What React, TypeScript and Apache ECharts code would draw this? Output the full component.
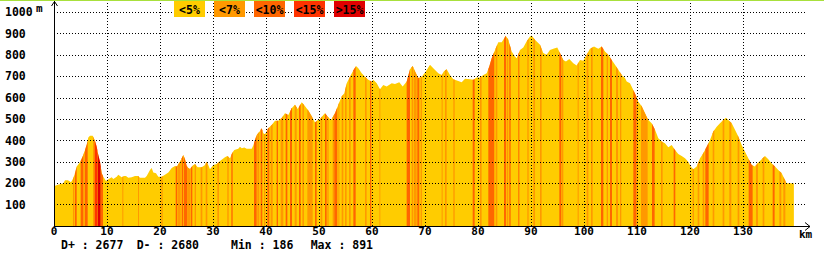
import React, { useEffect, useRef } from "react";
import * as echarts from "echarts";

// Elevation profile: distance (km) and altitude (m)
const KM = [
  0, 0.57, 1.75, 2.08, 2.64, 3.21, 3.64, 3.96, 4.28, 4.91, 5.53, 5.85, 6.17, 6.47, 6.79, 7.3, 7.74, 8.06, 8.36, 8.68,
  9.0, 9.3, 9.81, 10.25, 10.89, 11.19, 11.83, 12.13, 12.77, 13.21, 13.58, 14.02, 14.66, 15.28, 15.85, 16.23, 17.17, 17.49, 18.11, 18.43,
  18.74, 19.25, 19.68, 20.32, 20.94, 21.57, 22.21, 22.83, 23.15, 23.77, 24.4, 24.72, 25.04, 25.34, 25.66, 26.17, 26.6, 27.11, 27.87, 28.49,
  28.81, 29.11, 29.43, 30.06, 30.7, 31.32, 32.26, 32.7, 33.21, 33.64, 34.02, 34.77, 35.09, 35.42, 35.91, 36.36, 37.3, 37.6, 37.92, 38.25,
  38.87, 39.19, 39.49, 39.81, 40.43, 41.08, 41.7, 42.32, 42.96, 43.58, 44.21, 44.85, 45.47, 45.98, 46.74, 47.23, 47.98, 48.62, 49.25, 49.75,
  50.19, 50.81, 51.13, 51.75, 52.26, 53.02, 53.64, 54.28, 54.77, 55.23, 55.85, 56.47, 56.98, 57.42, 58.06, 58.68, 59.3, 59.94, 60.25, 60.89,
  61.51, 62.13, 62.77, 63.72, 64.34, 65.15, 65.79, 66.55, 67.17, 67.68, 68.11, 68.74, 69.38, 70.19, 70.94, 71.57, 72.51, 73.15, 73.58, 74.09,
  74.72, 75.34, 76.28, 76.92, 77.55, 78.49, 79.11, 79.75, 80.38, 81.0, 81.64, 82.13, 82.58, 83.21, 83.83, 84.47, 84.77, 85.23, 85.72, 86.36,
  86.98, 87.3, 87.92, 88.55, 89.19, 89.81, 90.13, 90.75, 91.7, 92.32, 92.96, 93.58, 94.21, 94.96, 95.47, 96.09, 96.6, 97.23, 97.98, 98.62,
  99.25, 99.87, 100.51, 101.13, 101.89, 102.7, 103.34, 103.96, 104.58, 105.23, 105.85, 106.47, 107.11, 107.74, 108.06, 108.68, 109.3, 109.81, 110.25, 110.89,
  111.51, 112.13, 112.77, 113.4, 114.02, 114.66, 115.28, 115.91, 116.55, 117.17, 117.79, 118.43, 119.06, 119.68, 120.13, 120.62, 121.26, 121.89, 122.51, 123.15,
  123.77, 124.4, 125.04, 125.66, 126.28, 126.79, 127.23, 127.87, 128.49, 129.11, 129.75, 130.38, 131.0, 131.64, 132.26, 132.89, 133.53, 134.15, 134.77, 135.42,
  136.04, 136.66, 137.3, 137.92, 138.23, 139.6,
];
const ELEV = [
  186, 192, 200, 214, 214, 205, 223, 247, 278, 298, 332, 356, 380, 414, 422, 422, 398, 371, 332, 301,
  247, 231, 211, 219, 228, 220, 231, 240, 228, 234, 234, 226, 228, 234, 234, 226, 226, 234, 262, 271,
  250, 247, 231, 231, 240, 250, 271, 281, 278, 301, 332, 312, 281, 271, 267, 283, 290, 275, 275, 286,
  301, 286, 266, 286, 290, 304, 322, 328, 317, 343, 356, 361, 371, 364, 367, 361, 361, 377, 403, 426,
  445, 458, 434, 429, 458, 473, 493, 493, 505, 528, 520, 551, 567, 547, 579, 565, 541, 513, 484, 496,
  500, 520, 528, 509, 496, 528, 567, 606, 621, 668, 699, 728, 749, 738, 715, 699, 684, 676, 684, 668,
  640, 660, 653, 668, 664, 673, 653, 676, 734, 749, 724, 692, 699, 724, 754, 738, 715, 707, 724, 734,
  707, 687, 679, 673, 689, 687, 684, 695, 695, 707, 715, 746, 785, 824, 860, 860, 871, 890, 871, 816,
  793, 785, 824, 835, 864, 887, 891, 871, 848, 809, 801, 824, 829, 835, 809, 777, 770, 781, 762, 751,
  777, 773, 801, 829, 840, 829, 840, 816, 801, 777, 754, 731, 707, 692, 676, 668, 637, 609, 582, 560,
  528, 496, 481, 450, 411, 395, 387, 369, 379, 356, 337, 328, 317, 301, 278, 266, 278, 317, 341, 371,
  403, 442, 465, 481, 496, 507, 496, 481, 450, 419, 379, 348, 317, 286, 278, 297, 312, 328, 312, 293,
  278, 262, 247, 215, 200, 200,
];

// Grade classes: 0 <5%, 1 <7%, 2 <10%, 3 <15%, 4 >15% ; stretches [fromKm, toKm, class]
const STRIPES: [number, number, number][] = [
  [3.58, 3.84, 1], [3.96, 4.28, 2], [5.03, 5.53, 2], [5.53, 5.79, 1], [5.85, 6.35, 2], [7.36, 7.67, 1],
  [7.67, 8.18, 3], [8.24, 8.81, 4], [8.81, 9.25, 2], [12.89, 13.08, 1], [15.85, 16.04, 1], [20.25, 20.5, 1],
  [22.96, 23.27, 2], [23.4, 23.9, 1], [24.09, 24.4, 2], [24.53, 25.16, 2], [25.16, 25.66, 1], [25.79, 26.1, 2],
  [26.54, 26.79, 1], [27.67, 27.99, 1], [28.62, 28.93, 1], [30.82, 31.13, 1], [32.7, 32.96, 1], [33.46, 33.71, 2],
  [37.74, 38.24, 2], [38.36, 38.74, 1], [38.99, 39.31, 2], [39.62, 39.87, 1], [40.25, 40.63, 2], [40.88, 41.26, 1],
  [42.01, 42.26, 2], [42.77, 43.27, 1], [43.71, 44.03, 2], [44.53, 44.91, 2], [45.41, 45.79, 1], [46.23, 46.54, 2],
  [46.86, 47.17, 1], [47.8, 48.81, 1], [49.25, 49.56, 2], [50.31, 50.63, 1], [51.13, 51.45, 2], [51.57, 51.82, 1],
  [52.58, 52.89, 1], [52.89, 53.46, 2], [53.65, 53.84, 1], [54.28, 54.59, 1], [54.91, 55.22, 1], [55.66, 55.98, 1],
  [56.48, 56.92, 2], [58.68, 58.99, 1], [59.62, 59.87, 2], [61.4, 61.57, 1], [66.54, 67.17, 2], [67.48, 67.8, 1],
  [67.92, 68.43, 1], [68.55, 68.93, 2], [69.18, 69.43, 1], [73.14, 73.33, 1], [73.77, 74.09, 1], [75.35, 75.6, 1],
  [79.0, 79.37, 2], [80.38, 80.69, 1], [81.95, 83.08, 2], [83.33, 83.65, 1], [84.91, 85.28, 2], [85.41, 85.72, 1],
  [85.91, 86.16, 2], [87.61, 87.8, 2], [89.31, 89.56, 1], [90.44, 90.76, 1], [91.7, 92.01, 1], [95.35, 95.72, 2],
  [95.79, 96.1, 1], [98.8, 99.0, 1], [100.5, 100.82, 1], [101.32, 101.64, 1], [103.21, 103.65, 2], [104.28, 104.53, 1],
  [104.91, 105.28, 2], [106.04, 106.42, 1], [106.79, 107.04, 1], [109.31, 109.81, 2], [109.81, 110.13, 1], [110.75, 112.01, 1],
  [112.83, 113.33, 2], [114.53, 114.84, 1], [116.92, 117.23, 2], [120.5, 120.75, 1], [121.45, 121.76, 1], [122.39, 122.7, 1],
  [122.89, 123.52, 2], [124.28, 124.59, 1], [126.16, 126.48, 1], [127.42, 127.8, 1], [128.99, 129.31, 1], [131.07, 131.82, 2],
  [132.45, 132.83, 1], [133.71, 134.03, 1], [135.6, 135.97, 2], [136.86, 137.23, 1], [137.61, 137.99, 1],
];

const GRADE_LABELS = ["<5%", "<7%", "<10%", "<15%", ">15%"];
const GRADE_COLORS = ["#FFCC00", "#FF9900", "#FF6600", "#FF3300", "#E00000"];

const X_TICKS = [0, 10, 20, 30, 40, 50, 60, 70, 80, 90, 100, 110, 120, 130];
const Y_TICKS = [100, 200, 300, 400, 500, 600, 700, 800, 900, 1000];

const STATS = [
  { label: "D+ : 2677", x: 61 },
  { label: "D- : 2680", x: 136.7 },
  { label: "Min : 186", x: 231 },
  { label: "Max : 891", x: 310.7 },
];

const FONT = "'DejaVu Sans Mono', monospace";

function elevAt(km: number): number {
  if (km <= KM[0]) return ELEV[0];
  for (let i = 1; i < KM.length; i++) {
    if (km <= KM[i]) {
      const t = (km - KM[i - 1]) / (KM[i] - KM[i - 1]);
      return ELEV[i - 1] + t * (ELEV[i] - ELEV[i - 1]);
    }
  }
  return ELEV[ELEV.length - 1];
}

export default function App() {
  const ref = useRef<HTMLDivElement>(null);
  useEffect(() => {
    if (!ref.current) return;
    const chart = echarts.init(ref.current, null, { renderer: "svg" });
    const profile = KM.map((k, i) => [k, ELEV[i]]);
    const gridLines: any[] = [
      ...Y_TICKS.map((v) => ({ yAxis: v })),
      ...X_TICKS.filter((v) => v > 0).map((v) => ({ xAxis: v })),
    ];
    const graphics: any[] = [
      { type: "rect", shape: { x: 0, y: 0, width: 824, height: 1 }, style: { fill: "#A8E03C" }, z: 20 },
      {
        type: "polyline",
        shape: { points: [[51.5, 6], [54.5, 1.5], [57.5, 6]] },
        style: { stroke: "#000", lineWidth: 1, fill: null },
        z: 20,
      },
      {
        type: "polyline",
        shape: { points: [[794, 226.5], [810, 226.5]] },
        style: { stroke: "#000", lineWidth: 1, fill: null },
        z: 20,
      },
      {
        type: "polyline",
        shape: { points: [[805, 222.5], [810, 226.5], [805, 230.5]] },
        style: { stroke: "#000", lineWidth: 1, fill: null },
        z: 20,
      },
      {
        type: "text",
        x: 36,
        y: 8,
        style: { text: "m", font: `bold 11px ${FONT}`, fill: "#000", verticalAlign: "middle" },
        z: 20,
      },
      {
        type: "text",
        x: 799,
        y: 234,
        style: { text: "km", font: `bold 11px ${FONT}`, fill: "#000", verticalAlign: "middle" },
        z: 20,
      },
      ...STATS.map((s) => ({
        type: "text",
        x: s.x,
        y: 245,
        style: {
          text: s.label,
          font: `bold 11.5px ${FONT}`,
          lineHeight: 9,
          fill: "#000",
          verticalAlign: "middle",
        },
        z: 20,
      })),
      ...GRADE_LABELS.map((lab, i) => ({
        type: "group",
        z: 30,
        children: [
          {
            type: "rect",
            shape: { x: 174 + i * 40, y: 1, width: 31, height: 16 },
            style: { fill: GRADE_COLORS[i] },
            z: 30,
          },
          {
            type: "text",
            x: 174 + i * 40 + 15.5,
            y: 9.5,
            style: {
              text: lab,
              font: `bold 11.5px ${FONT}`,
              fill: "#000",
              align: "center",
              verticalAlign: "middle",
            },
            z: 31,
          },
        ],
      })),
    ];

    chart.setOption({
      animation: false,
      backgroundColor: "#fff",
      grid: { left: 54, right: 19, top: 1, bottom: 29 },
      xAxis: {
        type: "value",
        min: 0,
        max: 141.7,
        interval: 10,
        axisLine: { show: true, lineStyle: { color: "#000", width: 1 } },
        axisTick: { show: false },
        splitLine: { show: false },
        axisLabel: {
          margin: 1,
          color: "#000",
          fontFamily: FONT,
          fontWeight: "bold",
          fontSize: 11,
          lineHeight: 9,
          formatter: (v: number) => (X_TICKS.includes(v) ? String(v) : ""),
        },
      },
      yAxis: {
        type: "value",
        min: 0,
        max: 1052.9,
        interval: 100,
        z: 10,
        axisLine: { show: true, lineStyle: { color: "#000", width: 1 } },
        axisTick: { show: false },
        splitLine: { show: false },
        axisLabel: {
          align: "left",
          margin: 49,
          color: "#000",
          fontFamily: FONT,
          fontWeight: "bold",
          fontSize: 11.5,
          padding: [3, 0, 0, 0],
          formatter: (v: number) => (Y_TICKS.includes(v) ? String(v) : ""),
        },
      },
      series: [
        {
          type: "line",
          data: profile,
          symbol: "none",
          lineStyle: { width: 0 },
          areaStyle: { color: GRADE_COLORS[0], opacity: 1 },
          silent: true,
          z: 2,
        },
        {
          type: "custom",
          data: STRIPES.map((s) => [s[0], s[1], s[2]]),
          dimensions: ["from", "to", "grade"],
          encode: { x: 0, y: 1 },
          silent: true,
          z: 3,
          clip: false,
          renderItem: (params: any, api: any) => {
            const s = STRIPES[params.dataIndex];
            const from = s[0];
            const to = s[1];
            const cls = s[2];
            const pts: number[][] = [];
            pts.push(api.coord([from, 0]));
            pts.push(api.coord([from, elevAt(from)]));
            for (let i = 0; i < KM.length; i++) {
              if (KM[i] > from && KM[i] < to) pts.push(api.coord([KM[i], ELEV[i]]));
            }
            pts.push(api.coord([to, elevAt(to)]));
            pts.push(api.coord([to, 0]));
            return {
              type: "polygon",
              shape: { points: pts },
              style: { fill: GRADE_COLORS[cls] },
            };
          },
          markLine: {
            silent: true,
            symbol: ["none", "none"],
            label: { show: false },
            lineStyle: { color: "#000", type: [1, 2], width: 1, opacity: 1 },
            emphasis: { disabled: true },
            data: gridLines,
            z: 5,
          },
        },
      ],
      graphic: graphics,
    });
    return () => chart.dispose();
  }, []);
  return (
    <div
      ref={ref}
      style={{ position: "fixed", left: 0, top: 0, width: 824, height: 255, background: "#fff" }}
    />
  );
}
